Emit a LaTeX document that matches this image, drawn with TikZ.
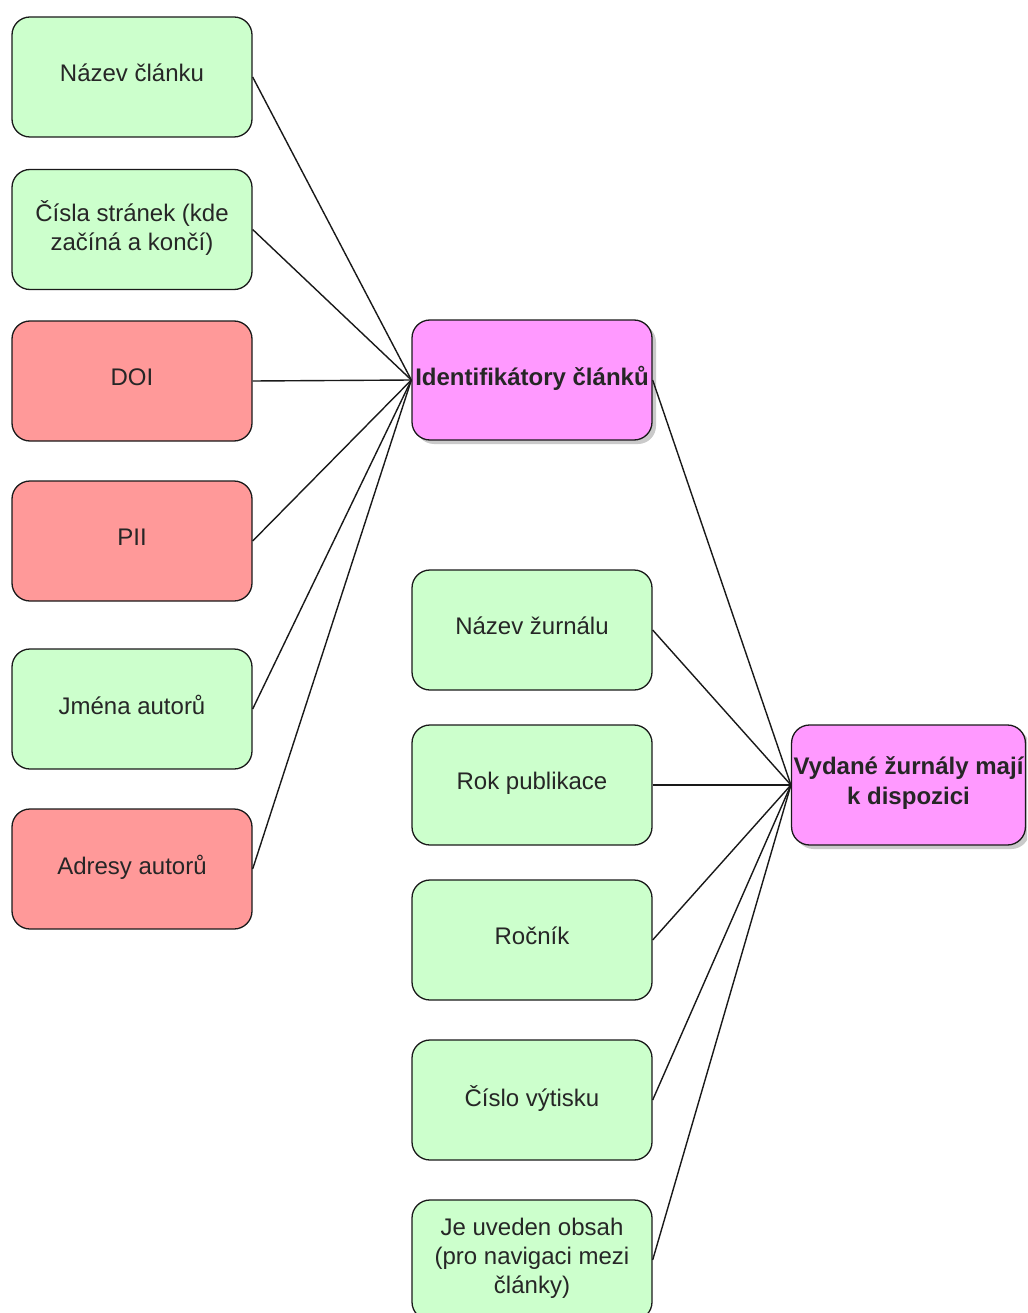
\documentclass[tikz,border=0pt]{standalone}
\usepackage{fontspec}
\setmainfont{Liberation Sans}
\usetikzlibrary{shadows}
\definecolor{boxgreen}{HTML}{CCFFCC}
\definecolor{boxred}{HTML}{FF9999}
\definecolor{boxpink}{HTML}{FF99FF}
\definecolor{edgegray}{HTML}{1A1A1A}
\tikzset{
  card/.style={draw=edgegray, line width=1.3pt, rounded corners=18pt,
    minimum width=240pt, minimum height=120pt, inner sep=2pt, align=center,
    text depth=8pt,
    font=\fontsize{24}{29}\selectfont, text=black!85},
  greencard/.style={card, fill=boxgreen},
  redcard/.style={card, fill=boxred},
  hubcard/.style={card, fill=boxpink, font=\fontsize{24}{30}\selectfont\bfseries,
    drop shadow={shadow xshift=4pt, shadow yshift=-4pt, opacity=0.35, fill=black!60}},
  link/.style={draw=black!90, line width=1.4pt}
}
\begin{document}
\begin{tikzpicture}[x=1pt,y=-1pt]
\useasboundingbox (0,0) rectangle (1027,1313);
\clip (0,0) rectangle (1027,1313);
% left column
\node[greencard] (nazev) at (132,77) {Název článku};
\node[greencard] (cisla) at (132,229.5) {Čísla stránek (kde\\začíná a končí)};
\node[redcard] (doi) at (132,381) {DOI};
\node[redcard] (pii) at (132,541) {PII};
\node[greencard] (jmena) at (132,709) {Jména autorů};
\node[redcard] (adresy) at (132,869) {Adresy autorů};
% hub 1
\node[hubcard] (ident) at (532,380) {Identifikátory článků};
% middle column
\node[greencard] (zurnal) at (532,630) {Název žurnálu};
\node[greencard] (rok) at (532,785) {Rok publikace};
\node[greencard] (rocnik) at (532,940) {Ročník};
\node[greencard] (cislo) at (532,1100) {Číslo výtisku};
\node[greencard] (obsah) at (532,1260) {Je uveden obsah\\(pro navigaci mezi\\články)};
% hub 2
\node[hubcard, minimum width=233pt] (vydane) at (908.5,785) {Vydané žurnály mají\\k dispozici};
% connectors
\foreach \n in {nazev,cisla,doi,pii,jmena,adresy}
  \draw[link] (\n.east) -- (ident.west);
\foreach \n in {ident,zurnal,rok,rocnik,cislo,obsah}
  \draw[link] (\n.east) -- (vydane.west);
\end{tikzpicture}
\end{document}
